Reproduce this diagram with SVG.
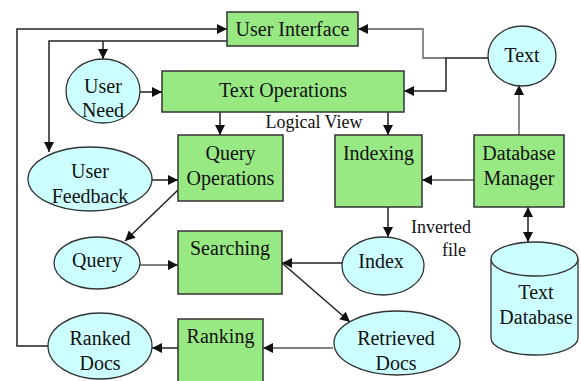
<svg xmlns="http://www.w3.org/2000/svg" width="581" height="381" viewBox="0 0 581 381">
<style>
.box{fill:#98e984;stroke:#333;stroke-width:1.5}
.ell{fill:#ccffff;stroke:#333;stroke-width:1.3}
text{font-family:'Liberation Serif','Times New Roman','DejaVu Serif',serif;fill:#111;text-anchor:middle}
.t{font-size:20px}
.s{font-size:18px}
.c{fill:none;stroke:#222;stroke-width:1.5}
.g{fill:none;stroke:#808080;stroke-width:1.8}
</style>
<defs>
<marker id="a" viewBox="0 0 10 10" refX="10" refY="5" markerWidth="10" markerHeight="10" markerUnits="userSpaceOnUse" orient="auto-start-reverse">
<path d="M0,0 L10,5 L0,10 z" fill="#111"/>
</marker>
</defs>
<rect width="581" height="381" fill="#fff"/>
<g id="connectors">
<polyline class="c" points="49,346 17,346 17,29 227,29" marker-end="url(#a)"/>
<polyline class="c" points="227,41 49,41 49,152" marker-end="url(#a)"/>
<polyline class="c" points="103,41 103,59" marker-end="url(#a)"/>
<line class="c" x1="140" y1="92" x2="162" y2="92" marker-end="url(#a)"/>
<line class="c" x1="220" y1="112" x2="220" y2="135" marker-end="url(#a)"/>
<line class="c" x1="388" y1="112" x2="388" y2="135" marker-end="url(#a)"/>
<polyline class="g" points="446,58 423,58 423,29 358,29" marker-end="url(#a)"/>
<polyline class="c" points="488,58 446,58 446,91 404,91" marker-end="url(#a)"/>
<line class="g" x1="519" y1="135" x2="519" y2="85" marker-end="url(#a)"/>
<line class="g" x1="474" y1="180" x2="422" y2="180" marker-end="url(#a)"/>
<line class="c" x1="528" y1="207" x2="528" y2="242" marker-start="url(#a)" marker-end="url(#a)"/>
<line class="c" x1="388" y1="207" x2="388" y2="237" marker-end="url(#a)"/>
<line class="c" x1="152" y1="180" x2="178" y2="180" marker-end="url(#a)"/>
<line class="c" x1="178" y1="190" x2="125" y2="241" marker-end="url(#a)"/>
<line class="g" x1="140" y1="265" x2="178" y2="265" marker-end="url(#a)"/>
<line class="c" x1="343" y1="263" x2="282" y2="263" marker-end="url(#a)"/>
<line class="c" x1="282" y1="263" x2="350" y2="322" marker-end="url(#a)"/>
<line class="g" x1="333" y1="348" x2="263" y2="348" marker-end="url(#a)"/>
<line class="c" x1="178" y1="348" x2="152" y2="348" marker-end="url(#a)"/>
</g>
<g id="user-interface">
<rect class="box" x="227" y="12" width="131" height="34"/>
<text class="t" x="292.5" y="36">User Interface</text>
</g>
<g id="text">
<ellipse class="ell" cx="522" cy="56" rx="34" ry="30"/>
<text class="t" x="522" y="62">Text</text>
</g>
<g id="user-need">
<ellipse class="ell" cx="103" cy="91" rx="37" ry="32"/>
<text class="t" x="103" y="93">User</text>
<text class="t" x="103" y="117">Need</text>
</g>
<g id="text-operations">
<rect class="box" x="162" y="71" width="242" height="41"/>
<text class="t" x="283" y="97">Text Operations</text>
</g>
<text class="s" x="314" y="128">Logical View</text>
<g id="user-feedback">
<ellipse class="ell" cx="90" cy="179" rx="62" ry="32"/>
<text class="t" x="90" y="178">User</text>
<text class="t" x="90" y="203">Feedback</text>
</g>
<g id="query-operations">
<rect class="box" x="178" y="135" width="105" height="66"/>
<text class="t" x="230.5" y="160">Query</text>
<text class="t" x="230.5" y="185">Operations</text>
</g>
<g id="indexing">
<rect class="box" x="335" y="135" width="87" height="72"/>
<text class="t" x="378.5" y="160">Indexing</text>
</g>
<g id="database-manager">
<rect class="box" x="474" y="135" width="90" height="72"/>
<text class="t" x="519" y="160">Database</text>
<text class="t" x="519" y="185">Manager</text>
</g>
<text class="s" x="441" y="233">Inverted</text>
<text class="s" x="454" y="256">file</text>
<g id="query">
<ellipse class="ell" cx="97" cy="263" rx="43" ry="26"/>
<text class="t" x="97" y="267">Query</text>
</g>
<g id="searching">
<rect class="box" x="178" y="231" width="104" height="63"/>
<text class="t" x="230" y="255">Searching</text>
</g>
<g id="index">
<ellipse class="ell" cx="383" cy="266" rx="41" ry="29"/>
<text class="t" x="381" y="268">Index</text>
</g>
<g id="text-database">
<path class="ell" d="M491,259 L491,338 A43.5,17 0 0 0 578,338 L578,259"/>
<ellipse class="ell" cx="534.5" cy="259" rx="43.5" ry="17"/>
<text class="t" x="536" y="299">Text</text>
<text class="t" x="536" y="324">Database</text>
</g>
<g id="retrieved-docs">
<ellipse class="ell" cx="397" cy="343" rx="63" ry="32"/>
<text class="t" x="396" y="345">Retrieved</text>
<text class="t" x="396" y="370">Docs</text>
</g>
<g id="ranking">
<rect class="box" x="178" y="319" width="85" height="70"/>
<text class="t" x="220.5" y="343">Ranking</text>
</g>
<g id="ranked-docs">
<ellipse class="ell" cx="100" cy="346" rx="52" ry="33"/>
<text class="t" x="100" y="345">Ranked</text>
<text class="t" x="100" y="370">Docs</text>
</g>
</svg>
